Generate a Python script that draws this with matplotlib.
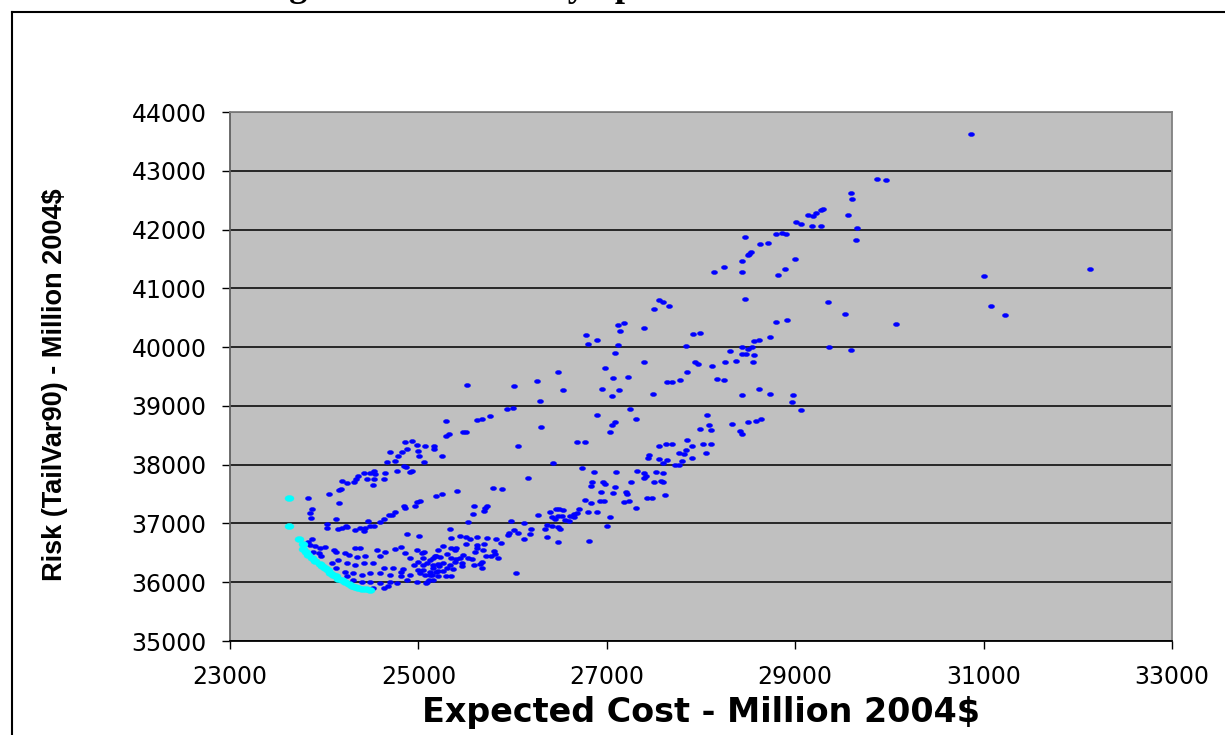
import numpy as np
import matplotlib
matplotlib.use("Agg")
import matplotlib.pyplot as plt
from matplotlib import font_manager
from matplotlib.path import Path
from matplotlib.transforms import Affine2D
from matplotlib.lines import Line2D

# feasible portfolios: expected cost vs risk (both million 2004$)
cost_feasible = [
    30870, 29870, 29960, 29590, 29600, 29560, 29660, 29650, 31000, 32130,
    31080, 31230, 30070, 29590, 29350, 29530, 29360, 29300, 29270, 29220,
    29190, 29140, 29010, 29060, 29180, 29270, 28800, 28860, 28900, 28470,
    28630, 28710, 28530, 28510, 28500, 28430, 29000, 28140, 28240, 28430,
    28890, 28820, 28470, 27550, 27600, 27660, 27500, 28800, 28910, 27180,
    27120, 27140, 27390, 26780, 26800, 26900, 27910, 27990, 28730, 28620,
    28560, 27120, 27090, 27840, 28440, 28540, 28500, 28430, 28480, 28560,
    28310, 27400, 26980, 27070, 27220, 27940, 27970, 28120, 28260, 28370,
    28550, 27850, 27780, 27640, 27690, 28170, 28240, 26950, 27130, 27060,
    26540, 27490, 28430, 28620, 28730, 28980, 28970, 29060, 26900, 27250,
    27310, 27090, 27060, 27030, 28060, 27990, 28080, 28110, 28330, 28500,
    28580, 28640, 28410, 28430, 26680, 26770, 27550, 27630, 27690, 27850,
    27900, 28020, 28110, 27840, 27770, 27820, 28050, 27450, 27440, 27550,
    27640, 27600, 27720, 27770, 27800, 27900, 26740, 26860, 27100, 27320,
    27400, 27520, 27600, 26840, 26830, 26960, 26980, 27090, 27260, 27420,
    27400, 27500, 27580, 27600, 26940, 27070, 27200, 27210, 27620, 26770,
    26830, 26930, 26970, 27180, 27240, 27430, 27480, 27310, 26710, 26540,
    26800, 26900, 27030, 27000, 26610, 26650, 26680, 26650, 26560, 26600,
    26520, 25520, 26020, 26260, 26480, 26290, 25940, 26000, 25760, 25290,
    25620, 25670, 25290, 25320, 25470, 25510, 26300, 24860, 24930, 24980,
    25070, 25170, 25170, 24880, 26060, 25000, 24700, 24780, 24830, 25010,
    25060, 24670, 24750, 24850, 24870, 24770, 24930, 24910, 24420, 24490,
    24530, 24540, 24650, 24640, 24530, 24450, 24360, 24340, 24320, 24190,
    24240, 24520, 24160, 24180, 24050, 23830, 24160, 23870, 23850, 23860,
    24130, 24030, 24030, 24150, 24190, 24240, 24230, 24330, 24380, 24430,
    24420, 24460, 24490, 24530, 24590, 24630, 24690, 24720, 24750, 24850,
    24860, 24960, 24980, 25020, 25190, 24880, 25010, 25250, 26430, 26160,
    25790, 25890, 25410, 25250, 25590, 25710, 25730, 25700, 25580, 25530,
    25980, 26120, 26270, 26400, 26460, 26490, 26420, 26480, 26450, 26360,
    26420, 26480, 26500, 26340, 26200, 26020, 25960, 26060, 25950, 26180,
    26360, 26120, 26480, 26810, 25340, 25350, 25440, 25510, 25550, 25620,
    25730, 25820, 25880, 25510, 25260, 25350, 25400, 25390, 25620, 25620,
    25700, 25690, 25800, 25810, 25770, 25850, 25720, 25600, 25470, 25530,
    25570, 25460, 25460, 25670, 25650, 25590, 25670, 26040, 25210, 25190,
    25160, 25230, 25300, 25350, 25400, 25440, 25040, 25050, 25090, 25160,
    25260, 25340, 25390, 25220, 25300, 25370, 25210, 25260, 25120, 25050,
    25070, 25140, 25210, 25290, 25350, 25110, 25160, 25080, 23870, 23830,
    23850, 23900, 23960, 24010, 23880, 23940, 23970, 24100, 24130, 24220,
    24260, 24330, 24380, 24350, 24430, 24560, 24650, 24590, 24750, 24820,
    24860, 24980, 25060, 24910, 25000, 25120, 25180, 25210, 25160, 25050,
    24950, 24840, 24730, 24630, 24520, 24420, 24330, 24240, 24150, 24080,
    24130, 24220, 24310, 24400, 24490, 24590, 24700, 24810, 24910, 25020,
    25120, 25190, 25090, 24980, 24880, 24770, 24680, 24590, 24490, 24400,
    24310, 24240, 24520, 24630, 24700, 24810, 25000,
]
risk_feasible = [
    43630, 42860, 42840, 42620, 42520, 42250, 42020, 41820, 41210, 41330,
    40700, 40550, 40390, 39950, 40770, 40560, 40000, 42350, 42330, 42290,
    42230, 42240, 42130, 42100, 42060, 42060, 41920, 41940, 41920, 41870,
    41750, 41770, 41620, 41590, 41570, 41470, 41500, 41280, 41360, 41280,
    41330, 41230, 40820, 40800, 40760, 40700, 40640, 40430, 40460, 40410,
    40370, 40280, 40320, 40200, 40050, 40120, 40220, 40240, 40170, 40120,
    40110, 40030, 39900, 40020, 40010, 40010, 39960, 39880, 39890, 39860,
    39930, 39740, 39650, 39480, 39500, 39740, 39720, 39680, 39740, 39760,
    39740, 39580, 39440, 39410, 39410, 39460, 39440, 39290, 39270, 39170,
    39270, 39200, 39190, 39290, 39200, 39190, 39060, 38930, 38840, 38950,
    38780, 38720, 38670, 38560, 38850, 38600, 38670, 38590, 38700, 38730,
    38740, 38780, 38570, 38520, 38380, 38390, 38310, 38360, 38360, 38420,
    38320, 38360, 38360, 38250, 38190, 38180, 38190, 38170, 38120, 38090,
    38080, 38020, 38000, 38000, 38070, 38110, 37940, 37870, 37870, 37890,
    37850, 37870, 37850, 37700, 37640, 37700, 37670, 37620, 37710, 37800,
    37770, 37710, 37720, 37710, 37540, 37520, 37540, 37500, 37480, 37400,
    37340, 37380, 37380, 37370, 37380, 37430, 37440, 37270, 37240, 37230,
    37190, 37190, 37110, 36950, 37130, 37160, 37170, 37110, 37060, 37050,
    37130, 39360, 39330, 39420, 39580, 39090, 38950, 38970, 38830, 38750,
    38760, 38770, 38490, 38530, 38550, 38560, 38640, 38380, 38400, 38330,
    38310, 38310, 38260, 38260, 38320, 38230, 38220, 38140, 38210, 38150,
    38040, 38040, 38060, 37980, 37960, 37900, 37890, 37870, 37850, 37850,
    37890, 37840, 37850, 37760, 37750, 37760, 37800, 37750, 37700, 37720,
    37690, 37660, 37570, 37590, 37500, 37440, 37340, 37240, 37170, 37090,
    37080, 36990, 36920, 36900, 36920, 36940, 36960, 36890, 36930, 36930,
    36870, 37050, 36950, 36960, 37030, 37080, 37150, 37150, 37200, 37290,
    37260, 37290, 37370, 37380, 37460, 36820, 36780, 38150, 38020, 37770,
    37610, 37580, 37550, 37500, 37300, 37270, 37300, 37220, 37160, 37030,
    37050, 37010, 37150, 37190, 37240, 37240, 37110, 37130, 37080, 36980,
    36960, 36940, 36910, 36910, 36910, 36880, 36830, 36840, 36810, 36820,
    36770, 36730, 36680, 36700, 36910, 36750, 36780, 36770, 36730, 36770,
    36750, 36740, 36670, 36650, 36620, 36580, 36580, 36540, 36640, 36590,
    36650, 36550, 36530, 36480, 36450, 36410, 36450, 36510, 36470, 36420,
    36390, 36320, 36280, 36340, 36310, 36290, 36240, 36160, 36540, 36450,
    36410, 36430, 36480, 36410, 36400, 36410, 36500, 36410, 36320, 36290,
    36320, 36290, 36350, 36270, 36240, 36220, 36190, 36190, 36180, 36210,
    36120, 36120, 36100, 36110, 36100, 36040, 36030, 35980, 36740, 36690,
    36640, 36610, 36590, 36600, 36520, 36500, 36440, 36540, 36520, 36490,
    36470, 36590, 36580, 36430, 36440, 36550, 36520, 36450, 36560, 36600,
    36500, 36550, 36520, 36410, 36350, 36380, 36440, 36310, 36240, 36290,
    36290, 36220, 36240, 36240, 36330, 36330, 36290, 36320, 36380, 36320,
    36240, 36180, 36150, 36120, 36150, 36150, 36120, 36100, 36120, 36150,
    36120, 36180, 36010, 36010, 36040, 35980, 35930, 35980, 36010, 36010,
    36040, 36100, 35900, 35900, 36010, 36180, 36210,
]

# efficient frontier
cost_frontier = [
    23630, 23630, 23730, 23780, 23780, 23810, 23830, 23870, 23900, 23960,
    23980, 24010, 24040, 24060, 24090, 24120, 24150, 24190, 24220, 24260,
    24290, 24330, 24360, 24400, 24440, 24490,
]
risk_frontier = [
    37440, 36960, 36740, 36650, 36560, 36520, 36470, 36410, 36360, 36310,
    36280, 36240, 36200, 36160, 36130, 36100, 36060, 36030, 36000, 35970,
    35940, 35920, 35900, 35890, 35880, 35870,
]

xticks_vals = np.arange(23000, 33001, 2000)
yticks_vals = np.arange(35000, 44001, 1000)

names = {f.name for f in font_manager.fontManager.ttflist}
narrow = 'Liberation Sans Narrow' if 'Liberation Sans Narrow' in names else 'Liberation Sans'

W, H = 1225, 735
fig = plt.figure(figsize=(W / 100, H / 100), dpi=100)
fig.patch.set_facecolor('white')

ax = fig.add_axes([230 / W, 94 / H, 942 / W, 529 / H])
ax.set_facecolor('#C0C0C0')

ell = Path.unit_circle().transformed(Affine2D().scale(1.5, 1.0))
ax.plot(cost_feasible, risk_feasible, ls='none', marker=ell, ms=4.4,
        mfc='#0000FF', mec='#0000FF', mew=0.3, zorder=3)
ax.plot(cost_frontier, risk_frontier, ls='none', marker=ell, ms=6.5,
        mfc='#00FFFF', mec='#00FFFF', mew=0.3, zorder=4)

ax.set_xlim(23000, 33000)
ax.set_ylim(35000, 44000)
ax.set_xticks(xticks_vals)
ax.set_yticks(yticks_vals)
ax.yaxis.grid(True, color='#1a1a1a', lw=1.3)
ax.set_axisbelow(True)

for s in ['top', 'right']:
    ax.spines[s].set_color('#808080')
    ax.spines[s].set_linewidth(1.3)
ax.spines['left'].set_color('#606060')
ax.spines['left'].set_linewidth(1.3)
ax.spines['bottom'].set_color('black')
ax.spines['bottom'].set_linewidth(1.3)

ax.tick_params(direction='out', length=6, width=1, color='black',
               labelsize=17, pad=11)
for lab in ax.get_xticklabels() + ax.get_yticklabels():
    lab.set_family('DejaVu Sans')

ax.set_xlabel('Expected Cost - Million 2004$', fontsize=24, fontweight='bold',
              family='DejaVu Sans', labelpad=5)

fig.text(55 / W, 1 - 385 / H, 'Risk (TailVar90) - Million 2004$',
         rotation=90, ha='center', va='center', fontsize=19.5,
         fontweight='bold', family=narrow)

# page title, mostly cut off by the top edge
fig.text(645 / W, 1 + 4 / H, 'Figure 10: Feasibility Space and Efficient Frontier',
         ha='center', va='baseline', fontsize=26, fontweight='bold',
         family='Liberation Serif')

# outer frame
fig.add_artist(Line2D([12 / W, 12 / W], [0, 1 - 12 / H], transform=fig.transFigure,
                      color='black', lw=1.5))
fig.add_artist(Line2D([12 / W, 1], [1 - 12 / H, 1 - 12 / H], transform=fig.transFigure,
                      color='black', lw=1.5))

fig.savefig('out.png', dpi=100)
